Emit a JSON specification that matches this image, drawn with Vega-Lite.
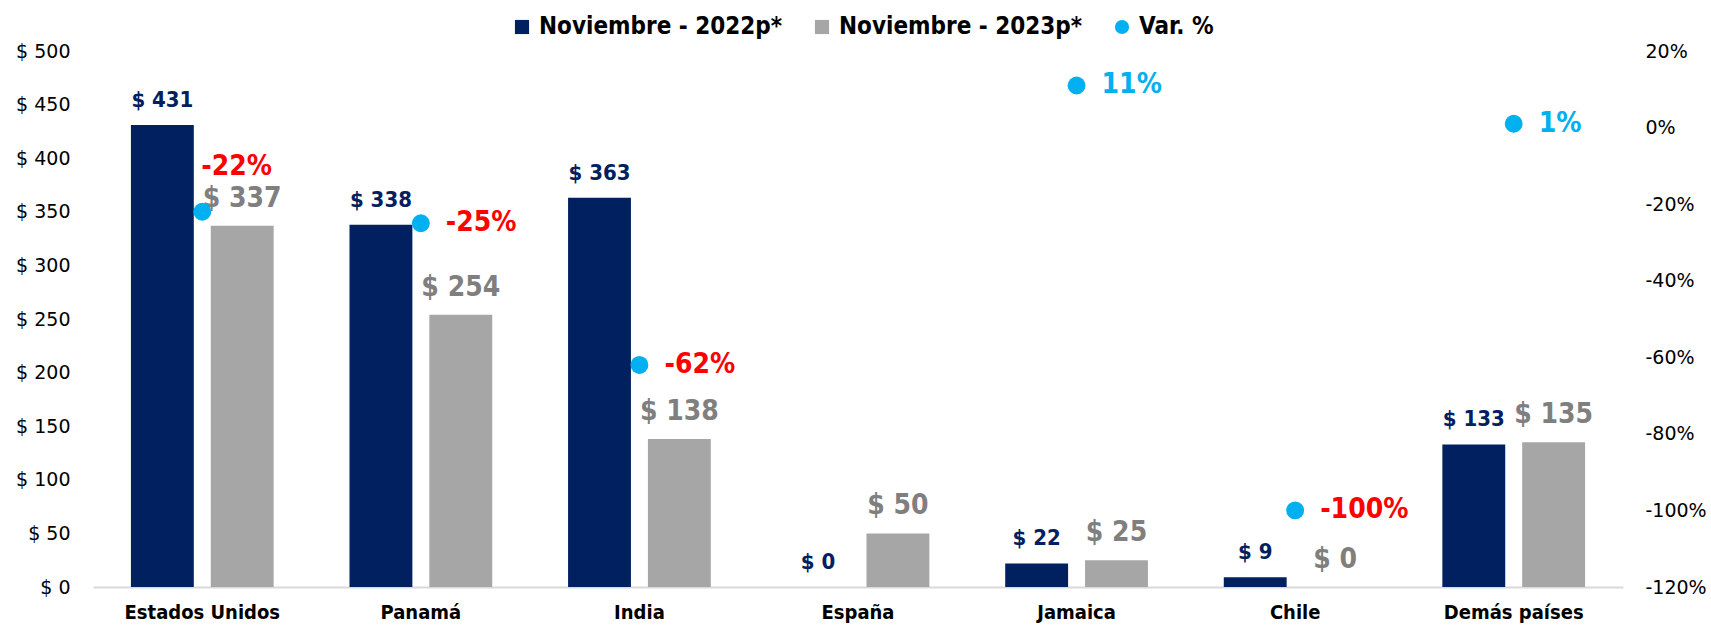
{
  "$schema": "https://vega.github.io/schema/vega-lite/v6.json",
  "width": 1530,
  "height": 536,
  "autosize": {"type": "none"},
  "padding": {"left": 93, "top": 51, "right": 88, "bottom": 42},
  "config": {
    "locale": {"number": {"decimal": ".", "thousands": ",", "grouping": [3], "currency": ["$ ", ""], "minus": "-"}},
    "view": {"stroke": null},
    "font": "DejaVu Sans"
  },
  "datasets": {
    "montos": [
      {"pais": "Estados Unidos", "serie": "Noviembre - 2022p*", "valor": 431},
      {"pais": "Estados Unidos", "serie": "Noviembre - 2023p*", "valor": 337},
      {"pais": "Panamá", "serie": "Noviembre - 2022p*", "valor": 338},
      {"pais": "Panamá", "serie": "Noviembre - 2023p*", "valor": 254},
      {"pais": "India", "serie": "Noviembre - 2022p*", "valor": 363},
      {"pais": "India", "serie": "Noviembre - 2023p*", "valor": 138},
      {"pais": "España", "serie": "Noviembre - 2022p*", "valor": 0},
      {"pais": "España", "serie": "Noviembre - 2023p*", "valor": 50},
      {"pais": "Jamaica", "serie": "Noviembre - 2022p*", "valor": 22},
      {"pais": "Jamaica", "serie": "Noviembre - 2023p*", "valor": 25},
      {"pais": "Chile", "serie": "Noviembre - 2022p*", "valor": 9},
      {"pais": "Chile", "serie": "Noviembre - 2023p*", "valor": 0},
      {"pais": "Demás países", "serie": "Noviembre - 2022p*", "valor": 133},
      {"pais": "Demás países", "serie": "Noviembre - 2023p*", "valor": 135}
    ],
    "variacion": [
      {"pais": "Estados Unidos", "var": -0.22},
      {"pais": "Panamá", "var": -0.25},
      {"pais": "India", "var": -0.62},
      {"pais": "Jamaica", "var": 0.11},
      {"pais": "Chile", "var": -1.0},
      {"pais": "Demás países", "var": 0.01}
    ]
  },
  "layer": [
    {
      "data": {"name": "montos"},
      "encoding": {
        "x": {
          "field": "pais", "type": "nominal",
          "sort": ["Estados Unidos", "Panamá", "India", "España", "Jamaica", "Chile", "Demás países"],
          "scale": {"paddingInner": 0.347, "paddingOuter": 0.1735},
          "axis": {"title": null, "labelAngle": 0, "ticks": false, "domainColor": "#D9D9D9", "domainWidth": 2, "labelFont": "DejaVu Sans Condensed", "labelFontWeight": "bold", "labelFontSize": 20, "labelColor": "#000000", "labelPadding": 15}
        },
        "xOffset": {"field": "serie", "type": "nominal", "sort": ["Noviembre - 2022p*", "Noviembre - 2023p*"], "scale": {"paddingInner": 0.2125, "paddingOuter": 0}},
        "y": {
          "field": "valor", "type": "quantitative",
          "scale": {"domain": [0, 500], "nice": false},
          "axis": {"title": null, "values": [0, 50, 100, 150, 200, 250, 300, 350, 400, 450, 500], "format": "$.0f", "grid": false, "domain": false, "ticks": false, "labelFontSize": 19, "labelColor": "#000000", "labelPadding": 23}
        }
      },
      "layer": [
        {
          "mark": {"type": "bar"},
          "encoding": {
            "color": {
              "field": "serie", "type": "nominal",
              "scale": {"domain": ["Noviembre - 2022p*", "Noviembre - 2023p*", "Var. %"], "range": ["#002060", "#A6A6A6", "#00B0F0"]},
              "legend": {
                "title": null, "orient": "none", "direction": "horizontal", "legendX": 417, "legendY": -36,
                "labelFont": "DejaVu Sans Condensed", "labelFontWeight": "bold", "labelFontSize": 24, "labelColor": "#000000", "labelLimit": 0,
                "symbolType": "square", "symbolSize": 200, "labelOffset": 5, "columnPadding": 27, "symbolStrokeWidth": 0,
                "encode": {"symbols": {"update": {"shape": {"signal": "datum.value === 'Var. %' ? 'circle' : 'square'"}}}}
              }
            }
          }
        },
        {
          "transform": [{"filter": "datum.serie === 'Noviembre - 2022p*'"}],
          "mark": {"type": "text", "baseline": "alphabetic", "dy": -18, "font": "DejaVu Sans Condensed", "fontWeight": "bold", "fontSize": 22, "color": "#002060"},
          "encoding": {"text": {"field": "valor", "type": "quantitative", "format": "$.0f"}}
        },
        {
          "transform": [{"filter": "datum.serie === 'Noviembre - 2023p*'"}],
          "mark": {"type": "text", "baseline": "alphabetic", "dy": -19, "font": "DejaVu Sans Condensed", "fontWeight": "bold", "fontSize": 28, "color": "#7F7F7F"},
          "encoding": {"text": {"field": "valor", "type": "quantitative", "format": "$.0f"}}
        }
      ]
    },
    {
      "data": {"name": "variacion"},
      "encoding": {
        "x": {"field": "pais", "type": "nominal", "sort": ["Estados Unidos", "Panamá", "India", "España", "Jamaica", "Chile", "Demás países"]},
        "y": {
          "field": "var", "type": "quantitative",
          "scale": {"domain": [-1.2, 0.2], "nice": false},
          "axis": {"orient": "right", "title": null, "values": [-1.2, -1.0, -0.8, -0.6, -0.4, -0.2, 0, 0.2], "format": ".0%", "grid": false, "domain": false, "ticks": false, "labelFontSize": 19, "labelColor": "#000000", "labelPadding": 22}
        }
      },
      "layer": [
        {
          "mark": {"type": "point", "filled": true, "size": 320, "opacity": 1},
          "encoding": {"color": {"datum": "Var. %"}}
        },
        {
          "transform": [{"filter": "datum.pais === 'Estados Unidos'"}],
          "mark": {"type": "text", "align": "left", "baseline": "middle", "dx": -1, "dy": -45, "font": "DejaVu Sans Condensed", "fontWeight": "bold", "fontSize": 28},
          "encoding": {
            "text": {"field": "var", "type": "quantitative", "format": ".0%"},
            "color": {"condition": {"test": "datum['var'] < 0", "value": "#FF0000"}, "value": "#00B0F0"}
          }
        },
        {
          "transform": [{"filter": "datum.pais !== 'Estados Unidos'"}],
          "mark": {"type": "text", "align": "left", "baseline": "middle", "dx": 25, "font": "DejaVu Sans Condensed", "fontWeight": "bold", "fontSize": 28},
          "encoding": {
            "text": {"field": "var", "type": "quantitative", "format": ".0%"},
            "color": {"condition": {"test": "datum['var'] < 0", "value": "#FF0000"}, "value": "#00B0F0"}
          }
        }
      ]
    }
  ],
  "resolve": {"scale": {"y": "independent"}}
}
